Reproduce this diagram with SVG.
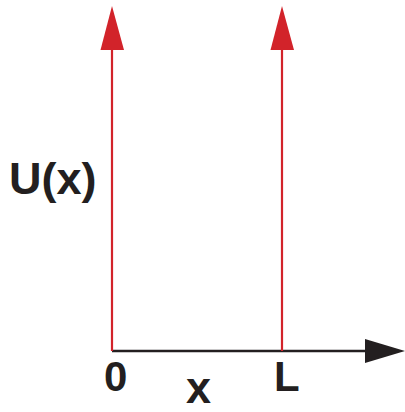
<svg xmlns="http://www.w3.org/2000/svg" width="405" height="412" viewBox="0 0 405 412">
<style>
.lbl{font-family:"Liberation Sans",Arial,sans-serif;font-weight:bold;font-size:42px;fill:#231f20}
.big{font-size:45px}
.red{stroke:#d2232a;stroke-width:2.2;fill:none}
.ax{stroke:#231f20;stroke-width:2.4;fill:none}
</style>
<rect width="405" height="412" fill="#fff"/>
<g id="connectors">
<line class="ax" x1="112" y1="351" x2="368" y2="351"/>
<polygon points="365,339 405,351 365,363" fill="#231f20"/>
<line class="red" x1="112" y1="351" x2="112" y2="48"/>
<polygon points="112,6 124,50 100.5,50" fill="#d2232a"/>
<line class="red" x1="282" y1="351" x2="282" y2="48"/>
<polygon points="282,6 294,50 270.5,50" fill="#d2232a"/>
</g>
<g id="label-U"><text class="lbl big" x="9" y="194">U(x)</text></g>
<g id="label-0"><text class="lbl" x="104" y="391">0</text></g>
<g id="label-L"><text class="lbl" x="274" y="391">L</text></g>
<g id="label-x"><text class="lbl big" x="186" y="403">x</text></g>
</svg>
